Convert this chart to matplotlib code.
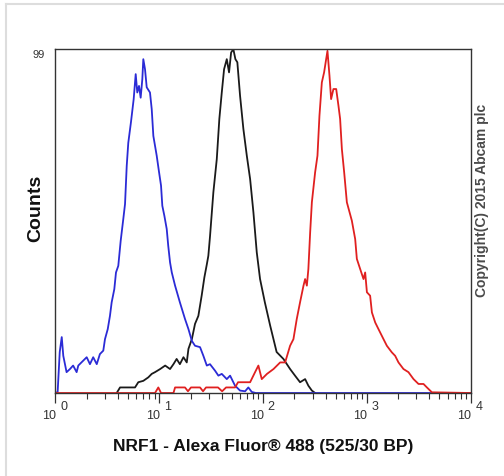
import numpy as np
import matplotlib
matplotlib.use("Agg")
import matplotlib.pyplot as plt
from matplotlib.lines import Line2D
from matplotlib.ticker import LogLocator, NullFormatter

plt.rcParams['font.family'] = ['Liberation Sans', 'DejaVu Sans']

# isotype control (blue)
blue_x = [1.0, 1.05, 1.10, 1.15, 1.19, 1.28, 1.38, 1.48, 1.60, 1.66, 1.85, 2.00, 2.15, 2.31,
          2.50, 2.68, 2.89, 3.00, 3.19, 3.35, 3.48, 3.69, 3.83, 4.03, 4.25, 4.50, 4.68, 4.86,
          5.03, 5.34, 5.67, 5.93, 6.14, 6.38, 6.62, 6.87, 7.02, 7.29, 7.57, 8.14, 8.46, 8.77,
          9.45, 9.95, 10.4, 10.7, 11.2, 11.8, 12.2, 12.7, 13.2, 14.2, 15.8, 17.7, 19.1, 20.6,
          22.1, 24.7, 26.6, 28.7, 30.8, 34.5, 37.1, 40.0, 44.7, 48.1, 53.7, 60.0, 67.1, 72.1,
          77.8, 85.0, 10000]
blue_y = [0, 0.3, 11.8, 16.1, 10.7, 6.0, 6.9, 7.9, 6.0, 7.9, 9.3, 10.3, 8.3, 10.3,
          8.3, 11.2, 12.2, 15.5, 18.4, 22.2, 26.1, 29.9, 34.7, 36.6, 43.8, 50.0, 54.4, 65.4,
          72.0, 78.0, 84.6, 91.8, 86.5, 88.4, 85.0, 90.4, 96.1, 93.2, 88.0, 86.5, 81.7, 74.0,
          68.3, 63.6, 59.7, 53.9, 51.0, 47.2, 42.4, 37.6, 34.7, 30.9, 26.1, 21.3, 18.4, 15.0,
          13.6, 13.2, 10.7, 7.9, 8.3, 6.4, 5.0, 5.5, 4.0, 5.0, 2.1, 0.7, 0.5, 1.6,
          0.3, 0, 0]

# unstained / secondary only (black)
black_x = [3.89, 4.19, 5.84, 6.28, 7.02, 7.84, 8.46, 9.10, 10.2, 11.4, 12.7, 13.7, 14.7,
           15.8, 17.1, 18.4, 19.1, 20.6, 22.1, 23.8, 25.6, 27.2, 28.7, 29.7, 30.8, 33.2,
           35.8, 37.9, 40.0, 42.1, 44.7, 47.0, 49.2, 51.7, 54.1, 56.5, 60.0, 64.6, 69.7,
           75.0, 80.7, 86.9, 93.5, 104, 117, 135, 157, 182, 203, 227, 254, 273, 295, 317]
black_y = [0, 1.6, 1.6, 3.1, 3.5, 4.5, 5.5, 6.0, 6.9, 7.9, 6.9, 8.3, 9.8,
           8.3, 10.3, 8.8, 12.7, 15.5, 19.9, 22.2, 28.0, 33.3, 37.0, 39.5, 45.0, 57.8,
           67.3, 78.9, 86.5, 93.2, 96.1, 92.3, 98.0, 99.0, 96.1, 95.2, 85.6, 76.0, 68.3,
           61.6, 52.0, 40.5, 32.8, 26.1, 19.4, 11.8, 9.8, 6.9, 5.0, 3.1, 4.0, 2.1, 0.7, 0]

# NRF1 stained (red)
red_x = [1.0, 9.10, 9.79, 10.4, 13.7, 14.2, 17.7, 18.9, 20.2, 24.7, 26.4, 28.2, 36.8,
         40.3, 44.0, 53.7, 57.4, 75.0, 83.7, 90.1, 97.1, 109, 126, 146, 163, 182, 196,
         211, 227, 245, 254, 264, 273, 284, 295, 317, 334, 349, 368, 387, 405, 417, 436,
         452, 476, 506, 532, 552, 574, 604, 641, 716, 771, 800, 861, 927, 962, 1000,
         1074, 1117, 1202, 1292, 1445, 1556, 1738, 1871, 2014, 2250, 2512, 2812, 3141,
         3508, 3784, 4227, 10000]
red_y = [0, 0, 1.6, 0, 0, 1.6, 1.6, 0.5, 1.6, 1.6, 0.5, 1.6, 1.6,
         0.5, 1.6, 1.6, 3.1, 3.1, 6.0, 7.9, 4.0, 5.5, 6.9, 8.8, 8.8, 13.6, 15.5,
         21.3, 26.1, 30.9, 32.8, 30.9, 35.7, 46.2, 54.9, 63.5, 68.3, 79.8, 89.4, 92.3, 96.1, 98.5, 91.3,
         84.6, 87.5, 87.5, 82.7, 78.9, 70.2, 63.5, 54.9, 49.6, 44.3, 38.6, 35.7, 32.8, 34.7, 29.0,
         28.0, 23.2, 20.3, 18.4, 15.5, 13.6, 11.7, 10.7, 8.8, 6.9, 6.0, 4.0, 2.6,
         2.6, 1.6, 0.2, 0]

decades = [1, 10, 100, 1000, 10000]
exponents = ['0', '1', '2', '3', '4']

fig = plt.figure(figsize=(5.04, 4.77), dpi=100)
ax = fig.add_axes([0.110, 0.174, 0.824, 0.721])

ax.plot(black_x, black_y, color='#1a1a1a', lw=1.3)
ax.plot(blue_x, blue_y, color='#2b2bd6', lw=1.3)
ax.plot(red_x, red_y, color='#e02020', lw=1.3)

ax.set_xscale('log')
ax.set_xlim(1, 1e4)
ax.set_ylim(0, 99)

ax.xaxis.set_major_locator(LogLocator(base=10))
ax.xaxis.set_minor_locator(LogLocator(base=10, subs=np.arange(2, 10)))
ax.xaxis.set_major_formatter(NullFormatter())
ax.xaxis.set_minor_formatter(NullFormatter())
ax.tick_params(axis='x', which='major', direction='out', length=7, width=0.9, colors='#333333')
ax.tick_params(axis='x', which='minor', direction='out', length=4, width=0.8, colors='#333333')
ax.set_yticks([])
for sp in ax.spines.values():
    sp.set_color('#333333')
    sp.set_linewidth(1.0)

# "10" with a raised exponent of nearly the same size, as in the cytometer export
for d, e in zip(decades, exponents):
    ax.annotate('10', xy=(d, 0), xycoords=('data', 'axes fraction'), xytext=(0.4, -15.8),
                textcoords='offset points', ha='right', va='center', fontsize=9,
                color='#333333', annotation_clip=False)
    ax.annotate(e, xy=(d, 0), xycoords=('data', 'axes fraction'), xytext=(3.4, -9.6),
                textcoords='offset points', ha='left', va='center', fontsize=9,
                color='#333333', annotation_clip=False)

ax.set_xlabel('NRF1 - Alexa Fluor® 488 (525/30 BP)', fontsize=12.5, fontweight='bold',
              color='#111111', labelpad=22)
ax.set_ylabel('Counts', fontsize=14, fontweight='bold', color='#111111')
ax.yaxis.set_label_coords(-0.026, 0.541)
ax.text(-0.025, 0.985, '99', transform=ax.transAxes, ha='right', va='center',
        fontsize=8, color='#333333')

fig.text(0.957, 0.58, 'Copyright(C) 2015 Abcam plc', rotation=90, ha='center', va='center',
         fontsize=10, fontweight='bold', color='#4a4a4a')

# light frame of the image
fig.add_artist(Line2D([0.012, 0.012], [0, 0.99], transform=fig.transFigure,
                      color='#dddddd', lw=1.5))
fig.add_artist(Line2D([0.012, 1.0], [0.99, 0.99], transform=fig.transFigure,
                      color='#dddddd', lw=1.5))

fig.savefig('out.png', dpi=100)
